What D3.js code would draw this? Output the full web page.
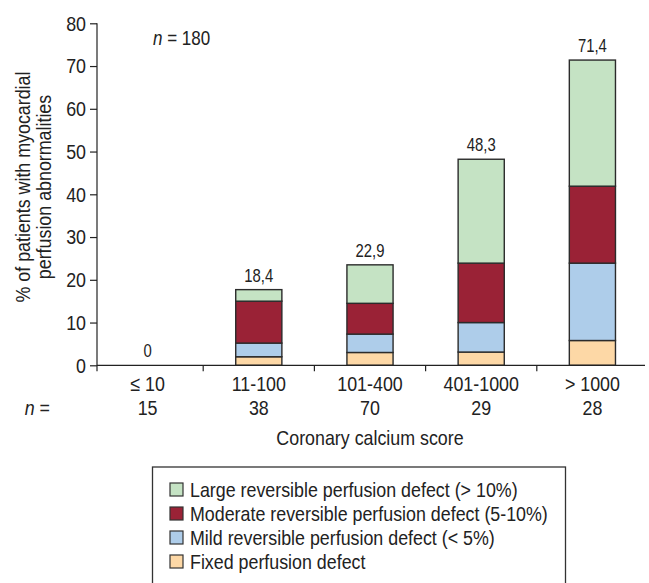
<!DOCTYPE html>
<html><head><meta charset="utf-8">
<script src="https://cdn.jsdelivr.net/npm/d3@7"></script>
<style>
html,body{margin:0;padding:0;background:#fff;}
svg{display:block;font-family:"Liberation Sans",Arial,Helvetica,sans-serif;}
</style></head>
<body>
<svg id="chart" width="649" height="583"></svg>
<script>
const categories = ["\u2264 10", "11-100", "101-400", "401-1000", "> 1000"];
const nValues = ["15", "38", "70", "29", "28"];
const totalLabels = ["0", "18,4", "22,9", "48,3", "71,4"];
const fixedDefect = [0, 2.0, 3.0, 3.1, 5.8];
const mildDefect = [0, 3.2, 4.3, 6.9, 18.1];
const moderateDefect = [0, 9.8, 7.2, 13.9, 18.0];
const largeDefect = [0, 2.7, 9.0, 24.3, 29.5];
const seriesNames = ["Fixed perfusion defect", "Mild reversible perfusion defect (< 5%)", "Moderate reversible perfusion defect (5-10%)", "Large reversible perfusion defect (> 10%)"];
const seriesKeys = ["fixed", "mild", "moderate", "large"];
const colors = ["#fdd8a6", "#aecdea", "#9a2236", "#c5e3c4"];
const yTicks = [0, 10, 20, 30, 40, 50, 60, 70, 80];

const SX = 0.85; // horizontal condensing of text (condensed sans look)
const INK = "#222";

const rows = categories.map((c, i) => ({cat: c, fixed: fixedDefect[i], mild: mildDefect[i], moderate: moderateDefect[i], large: largeDefect[i]}));

const svg = d3.select("#chart");
const y = d3.scaleLinear().domain([0, 80]).range([365.3, 23.3]);
const x = d3.scaleBand().domain(categories).range([92, 648]);
const barW = x.bandwidth() * 0.415;
const color = d3.scaleOrdinal().domain(seriesKeys).range(colors);
const stack = d3.stack().keys(seriesKeys)(rows);

function ctext(parent, px, py, size, anchor, rot) {
  return parent.append("text")
    .attr("transform", `translate(${px},${py})` + (rot ? ` rotate(${rot})` : "") + ` scale(${SX},1)`)
    .attr("text-anchor", anchor || "start")
    .attr("font-size", size).attr("fill", INK);
}

// bars
const g = svg.append("g");
stack.forEach(layer => {
  g.selectAll(null).data(layer.filter(d => d[1] - d[0] > 0)).enter().append("rect")
    .attr("x", d => x(d.data.cat) + x.bandwidth() / 2 - barW / 2)
    .attr("y", d => y(d[1]))
    .attr("width", barW)
    .attr("height", d => y(d[0]) - y(d[1]))
    .attr("fill", color(layer.key))
    .attr("stroke", "#2b2b2b")
    .attr("stroke-width", 1.4);
});

// totals above bars
const totals = rows.map(r => r.fixed + r.mild + r.moderate + r.large);
categories.forEach((c, i) => {
  ctext(svg, x(c) + x.bandwidth() / 2, y(totals[i]) - 8, 17.5, "middle").text(totalLabels[i]);
});

// y axis
const yAxis = d3.axisLeft(y).tickValues(yTicks).tickSize(7).tickPadding(4);
const ya = svg.append("g").attr("transform", "translate(97,0)").call(yAxis);
ya.attr("font-family", null).attr("font-size", null);
ya.select(".domain").remove();
ya.selectAll("line").attr("stroke", INK).attr("stroke-width", 1.2);
ya.selectAll("text").attr("font-size", 21).attr("fill", INK)
  .attr("x", -11 / SX).attr("transform", `scale(${SX},1)`);
svg.append("line").attr("x1", 97).attr("x2", 97).attr("y1", y(80)).attr("y2", y(0) + 6)
  .attr("stroke", INK).attr("stroke-width", 1.2);

// x axis
svg.append("line").attr("x1", 97).attr("x2", 645).attr("y1", y(0)).attr("y2", y(0))
  .attr("stroke", INK).attr("stroke-width", 1.2);
svg.selectAll(null).data(categories.slice(1)).enter().append("line")
  .attr("x1", d => x(d)).attr("x2", d => x(d))
  .attr("y1", y(0)).attr("y2", y(0) + 6)
  .attr("stroke", INK).attr("stroke-width", 1.2);
const xa = svg.append("g").attr("transform", `translate(0,${y(0)})`)
  .call(d3.axisBottom(x).tickSize(0).tickPadding(11));
xa.attr("font-family", null).attr("font-size", null);
xa.select(".domain").remove();
xa.selectAll("text").attr("font-size", 21).attr("fill", INK).attr("transform", `scale(${SX},1)`);

// n row
categories.forEach((c, i) => {
  ctext(svg, x(c) + x.bandwidth() / 2, 415, 21, "middle").text(nValues[i]);
});
const nLab = ctext(svg, 50, 415, 21, "end");
nLab.append("tspan").attr("font-style", "italic").text("n");
nLab.append("tspan").text(" =");

// x title
ctext(svg, 370, 445, 21, "middle").text("Coronary calcium score");

// y title
ctext(svg, 30, 187, 21, "middle", -90).text("% of patients with myocardial");
ctext(svg, 51, 187, 21, "middle", -90).text("perfusion abnormalities");

// n = 180
const nt = ctext(svg, 153, 45, 20, "start");
nt.append("tspan").attr("font-style", "italic").text("n");
nt.append("tspan").text(" = 180");

// legend
svg.append("rect").attr("x", 152.5).attr("y", 467).attr("width", 413).attr("height", 140)
  .attr("fill", "none").attr("stroke", "#333").attr("stroke-width", 1.3);
const legOrder = [3, 2, 1, 0];
legOrder.forEach((d, i) => {
  const gy = 483 + i * 24;
  svg.append("rect").attr("x", 170).attr("y", gy).attr("width", 13).attr("height", 13)
    .attr("fill", colors[d]).attr("stroke", "#333").attr("stroke-width", 1.2);
  ctext(svg, 190, gy + 13.5, 21, "start").text(seriesNames[d]);
});
</script>
</body></html>
